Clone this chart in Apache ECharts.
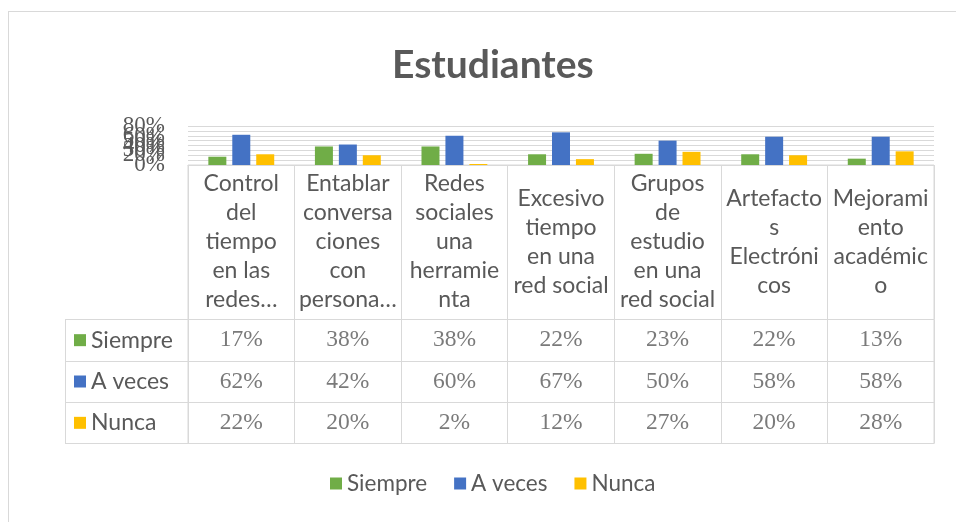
<!DOCTYPE html>
<html>
<head>
<meta charset="utf-8">
<script src="https://cdn.jsdelivr.net/npm/echarts@6/dist/echarts.min.js"></script>
<style>
  html, body { margin: 0; padding: 0; background: #fff; }
  #wrap { position: relative; width: 956px; height: 522px; overflow: hidden; }
  #frame { position: absolute; left: 8px; top: 11px; width: 1000px; height: 600px; border-top: 1px solid #d9d9d9; border-left: 1px solid #d9d9d9; }
  #chart { position: absolute; left: 0; top: 0; width: 956px; height: 522px; }
</style>
</head>
<body>
<div id="wrap"><div id="frame"></div><div id="chart"></div></div>
<script>
// ---- data ----
const title = 'Estudiantes';
const categories = [
  'Control\ndel\ntiempo\nen las\nredes…',
  'Entablar\nconversa\nciones\ncon\npersona…',
  'Redes\nsociales\nuna\nherramie\nnta',
  'Excesivo\ntiempo\nen una\nred social',
  'Grupos\nde\nestudio\nen una\nred social',
  'Artefacto\ns\nElectróni\ncos',
  'Mejorami\nento\nacadémic\no'
];
const seriesNames = ['Siempre', 'A veces', 'Nunca'];
const siempre = [17, 38, 38, 22, 23, 22, 13];
const aVeces  = [62, 42, 60, 67, 50, 58, 58];
const nunca   = [22, 20, 2, 12, 27, 20, 28];
const yTicks = [0, 10, 20, 30, 40, 50, 60, 70, 80];

// ---- styling ----
const colors = ['#70AD47', '#4472C4', '#FFC000'];
const txt = '#595959';
const line = '#d9d9d9';
const sans = 'Lato, "Noto Sans", sans-serif';
const serif = '"Liberation Serif", "DejaVu Serif", serif';
const values = [siempre, aVeces, nunca];

const chart = echarts.init(document.getElementById('chart'), null, { renderer: 'canvas' });

const barSeries = seriesNames.map((n, i) => ({
  name: n, type: 'bar', xAxisIndex: 0, yAxisIndex: 0,
  data: values[i], barWidth: 18, barGap: '33%',
  itemStyle: { color: colors[i] }, silent: true
}));

const tableSeries = seriesNames.map((n, i) => ({
  name: n + ' (tabla)', type: 'scatter', xAxisIndex: 2, yAxisIndex: 2,
  symbolSize: 1, itemStyle: { color: 'rgba(0,0,0,0)' }, silent: true,
  data: values[i].map((v, j) => [j, i, v]),
  label: {
    show: true, position: 'inside', color: txt, fontFamily: serif, fontSize: 23.5,
    formatter: p => p.value[2] + '%'
  }
}));

const rich = {};
seriesNames.forEach((n, i) => {
  rich['sq' + i] = { width: 12, height: 12, backgroundColor: colors[i] };
});
rich.t = { color: txt, fontFamily: sans, fontSize: 23, padding: [0, 0, 0, 5] };

chart.setOption({
  animation: false,
  title: {
    text: title, left: 387, top: 41,
    textStyle: { color: txt, fontFamily: sans, fontWeight: 'bold', fontSize: 39 }
  },
  legend: {
    data: seriesNames, bottom: 22, left: 325, itemWidth: 12, itemHeight: 12,
    itemGap: 27, selectedMode: false, icon: 'rect',
    textStyle: { color: txt, fontFamily: sans, fontSize: 22.5 }
  },
  grid: [
    { left: 188, right: 22, top: 126, height: 39 },
    { left: 188, right: 22, top: 165, height: 154.5, show: true, borderColor: line, borderWidth: 1 },
    { left: 188, right: 22, top: 319.5, height: 124, show: true, borderColor: line, borderWidth: 1 }
  ],
  xAxis: [
    { type: 'category', gridIndex: 0, data: categories,
      axisLine: { lineStyle: { color: line } }, axisTick: { show: false },
      axisLabel: { interval: 0, margin: 77, verticalAlign: 'middle', color: txt,
        fontFamily: sans, fontSize: 23, lineHeight: 29, align: 'center' } },
    { type: 'category', gridIndex: 1, data: categories,
      axisLine: { show: false }, axisTick: { show: false }, axisLabel: { show: false },
      splitLine: { show: true, interval: 0, lineStyle: { color: line } } },
    { type: 'category', gridIndex: 2, data: categories,
      axisLine: { show: false }, axisTick: { show: false }, axisLabel: { show: false },
      splitLine: { show: true, interval: 0, lineStyle: { color: line } } }
  ],
  yAxis: [
    { type: 'value', gridIndex: 0, min: yTicks[0], max: yTicks[yTicks.length - 1], interval: 10,
      axisLine: { show: false }, axisTick: { show: false },
      splitLine: { lineStyle: { color: line } },
      axisLabel: { formatter: '{value}%', color: txt, fontFamily: serif, fontSize: 23, margin: 23,
        showMinLabel: true, showMaxLabel: true, hideOverlap: false } },
    { type: 'value', gridIndex: 1, min: 0, max: 1,
      axisLine: { show: false }, axisTick: { show: false }, axisLabel: { show: false }, splitLine: { show: false } },
    { type: 'category', gridIndex: 2, data: seriesNames, inverse: true,
      axisLine: { show: true, lineStyle: { color: line } },
      axisTick: { show: true, length: 123, lineStyle: { color: line } },
      splitLine: { show: true, interval: 0, lineStyle: { color: line } },
      axisLabel: { interval: 0, align: 'left', margin: 114, rich: rich,
        formatter: (v, idx) => '{sq' + idx + '|}{t|' + v + '}' } },
    { type: 'category', gridIndex: 2, data: seriesNames, inverse: true, position: 'left', offset: 123,
      axisLine: { show: true, lineStyle: { color: line } }, axisTick: { show: false }, axisLabel: { show: false } }
  ],
  series: barSeries.concat(tableSeries)
});
</script>
</body>
</html>
